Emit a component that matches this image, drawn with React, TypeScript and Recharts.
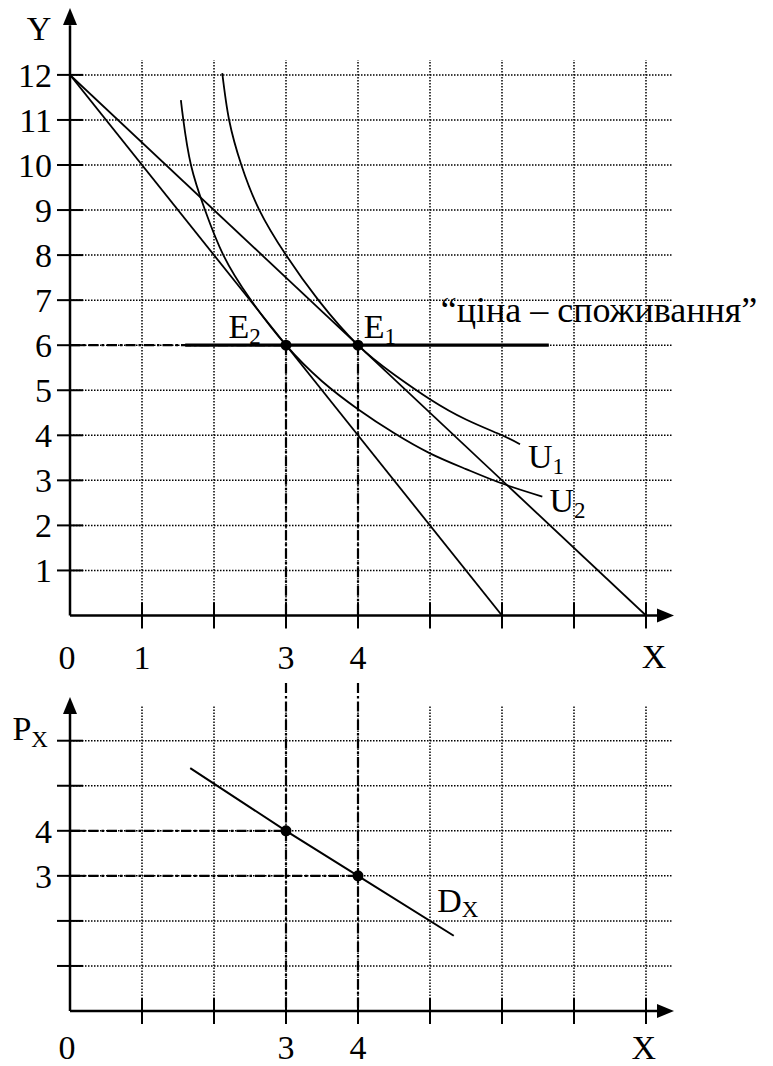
import React from "react";
import { ComposedChart, Line, ReferenceDot, ReferenceLine, XAxis, YAxis } from "recharts";

// Top panel: budget lines, indifference curves, price–consumption line
const budgetLine1 = [
  { x: 0, y: 12 },
  { x: 8, y: 0 },
];
const budgetLine2 = [
  { x: 0, y: 12 },
  { x: 6, y: 0 },
];
const curveU1 = [
  { x: 2.115, y: 12.04 },
  { x: 2.21, y: 11 },
  { x: 2.38, y: 10 },
  { x: 2.63, y: 9 },
  { x: 3, y: 8 },
  { x: 3.45, y: 7 },
  { x: 4, y: 6 },
  { x: 4.5, y: 5.35 },
  { x: 5, y: 4.8 },
  { x: 5.5, y: 4.35 },
  { x: 6, y: 4 },
  { x: 6.25, y: 3.8 },
];
const curveU2 = [
  { x: 1.54, y: 11.44 },
  { x: 1.574, y: 11 },
  { x: 1.68, y: 10 },
  { x: 1.875, y: 9 },
  { x: 2.13, y: 8 },
  { x: 2.5, y: 7.03 },
  { x: 3, y: 6 },
  { x: 3.5, y: 5.2 },
  { x: 4, y: 4.58 },
  { x: 4.5, y: 4.05 },
  { x: 5, y: 3.6 },
  { x: 5.5, y: 3.25 },
  { x: 6, y: 2.93 },
  { x: 6.56, y: 2.64 },
];
const priceConsumption = [
  { x: 1.6, y: 6 },
  { x: 6.65, y: 6 },
];
const equilibria = [
  { x: 3, y: 6 },
  { x: 4, y: 6 },
];

// Bottom panel: demand curve
const demandX = [
  { x: 1.67, y: 5.39 },
  { x: 3, y: 4 },
  { x: 4, y: 3 },
  { x: 5.33, y: 1.67 },
];
const demandPoints = [
  { x: 3, y: 4 },
  { x: 4, y: 3 },
];

const xTicks = [0, 1, 2, 3, 4, 5, 6, 7, 8];
const topXLabels = [0, 1, 3, 4];
const bottomXLabels = [0, 3, 4];
const yTicks = [1, 2, 3, 4, 5, 6, 7, 8, 9, 10, 11, 12];
const pTicks = [1, 2, 3, 4, 5, 6];
const pLabels = [3, 4];

const FONT = "'Liberation Serif', 'Times New Roman', 'DejaVu Serif', serif";
const FS = 34;
const SUB = 23;
const DOTTED = "1.5 1.5";
const DASH_DOT = "10 3 2.5 3";

const makeXTick = (labelled: number[], labelDy: number) => (props: any) => {
  const { x, y, payload } = props;
  const v = payload.value;
  return (
    <g>
      {v !== 0 && <line x1={x} x2={x} y1={y - 13} y2={y + 13} stroke="#000" strokeWidth={2} />}
      {labelled.includes(v) && (
        <text x={v === 0 ? x - 3 : x} y={y + labelDy} textAnchor="middle" fontFamily={FONT} fontSize={FS} fill="#000">
          {v}
        </text>
      )}
    </g>
  );
};

const makeYTick = (labelled: number[]) => (props: any) => {
  const { x, y, payload } = props;
  const v = payload.value;
  return (
    <g>
      <line x1={x - 13} x2={x + 13} y1={y} y2={y} stroke="#000" strokeWidth={2} />
      {labelled.includes(v) && (
        <text x={x - 18} y={y + 12} textAnchor="end" fontFamily={FONT} fontSize={FS} fill="#000">
          {v}
        </text>
      )}
    </g>
  );
};

const textShape = (main: string, sub?: string, subDy = 6, size = FS) => (p: any) => (
  <text x={p.cx} y={p.cy} fontFamily={FONT} fontSize={size} fill="#000">
    {main}
    {sub && (
      <tspan fontSize={SUB} dy={subDy}>
        {sub}
      </tspan>
    )}
  </text>
);

const upArrow = (p: any) => (
  <path d={`M${p.cx},${p.cy} L${p.cx - 7},${p.cy + 17} L${p.cx + 7},${p.cy + 17} Z`} fill="#000" />
);
const rightArrow = (p: any) => (
  <path d={`M${p.cx},${p.cy} L${p.cx - 17},${p.cy - 7} L${p.cx - 17},${p.cy + 7} Z`} fill="#000" />
);
const blackDot = (p: any) => <circle cx={p.cx} cy={p.cy} r={5.5} fill="#000" />;

const X_MAX = 8.389;
const GRID_RIGHT = 8.375;

function TopPanel() {
  const Y_MAX = 13.485;
  return (
    <ComposedChart width={773} height={680} margin={{ top: 8, right: 99, bottom: 4.5, left: 0 }}>
      <XAxis
        type="number"
        dataKey="x"
        domain={[0, X_MAX]}
        allowDataOverflow
        ticks={xTicks}
        interval={0}
        height={60}
        tickSize={0}
        tickMargin={0}
        axisLine={false}
        tick={makeXTick(topXLabels, 53)}
      />
      <YAxis
        type="number"
        dataKey="y"
        domain={[0, Y_MAX]}
        allowDataOverflow
        ticks={yTicks}
        interval={0}
        width={70}
        tickSize={0}
        tickMargin={0}
        axisLine={false}
        tick={makeYTick(yTicks)}
      />
      {yTicks.map((v) => (
        <ReferenceLine key={`h${v}`} segment={[{ x: 0, y: v }, { x: GRID_RIGHT, y: v }]} stroke="#000" strokeWidth={1.5} strokeDasharray={DOTTED} ifOverflow="visible" />
      ))}
      {xTicks.slice(1).map((v) => (
        <ReferenceLine key={`v${v}`} segment={[{ x: v, y: 0 }, { x: v, y: 12.33 }]} stroke="#000" strokeWidth={1.5} strokeDasharray={DOTTED} ifOverflow="visible" />
      ))}
      <ReferenceLine segment={[{ x: 0, y: 6 }, { x: 3, y: 6 }]} stroke="#000" strokeWidth={2.2} strokeDasharray={DASH_DOT} ifOverflow="visible" />
      {equilibria.map((p) => (
        <ReferenceLine key={`d${p.x}`} segment={[{ x: p.x, y: p.y }, { x: p.x, y: 0 }]} stroke="#000" strokeWidth={2.2} strokeDasharray={DASH_DOT} ifOverflow="visible" />
      ))}
      <ReferenceLine segment={[{ x: 0, y: 0 }, { x: 0, y: 13.1 }]} stroke="#000" strokeWidth={2.5} ifOverflow="visible" />
      <ReferenceLine segment={[{ x: 0, y: 0 }, { x: 8.2, y: 0 }]} stroke="#000" strokeWidth={2.5} ifOverflow="visible" />
      <ReferenceDot x={0} y={Y_MAX} shape={upArrow} ifOverflow="visible" />
      <ReferenceDot x={X_MAX} y={0} shape={rightArrow} ifOverflow="visible" />

      <Line data={budgetLine1} dataKey="y" type="linear" stroke="#000" strokeWidth={1.8} dot={false} isAnimationActive={false} />
      <Line data={budgetLine2} dataKey="y" type="linear" stroke="#000" strokeWidth={1.8} dot={false} isAnimationActive={false} />
      <Line data={curveU1} dataKey="y" type="natural" stroke="#000" strokeWidth={1.8} dot={false} isAnimationActive={false} />
      <Line data={curveU2} dataKey="y" type="natural" stroke="#000" strokeWidth={1.8} dot={false} isAnimationActive={false} />
      <Line data={priceConsumption} dataKey="y" type="linear" stroke="#000" strokeWidth={3.2} dot={false} isAnimationActive={false} />
      {equilibria.map((p) => (
        <ReferenceDot key={`e${p.x}`} x={p.x} y={p.y} shape={blackDot} ifOverflow="visible" />
      ))}

      <ReferenceDot x={-0.6} y={12.77} shape={textShape("Y")} ifOverflow="visible" />
      <ReferenceDot x={7.94} y={-1.17} shape={textShape("X")} ifOverflow="visible" />
      <ReferenceDot x={2.2} y={6.17} shape={textShape("E", "2")} ifOverflow="visible" />
      <ReferenceDot x={4.08} y={6.17} shape={textShape("E", "1")} ifOverflow="visible" />
      <ReferenceDot x={5.15} y={6.52} shape={textShape("“ціна – споживання”", undefined, 6, 36)} ifOverflow="visible" />
      <ReferenceDot x={6.36} y={3.28} shape={textShape("U", "1")} ifOverflow="visible" />
      <ReferenceDot x={6.66} y={2.3} shape={textShape("U", "2")} ifOverflow="visible" />
    </ComposedChart>
  );
}

function BottomPanel() {
  const P_MAX = 7.281;
  return (
    <ComposedChart width={773} height={386} margin={{ top: 3, right: 99, bottom: 5, left: 0 }}>
      <XAxis
        type="number"
        dataKey="x"
        domain={[0, X_MAX]}
        allowDataOverflow
        ticks={xTicks}
        interval={0}
        height={50}
        tickSize={0}
        tickMargin={0}
        axisLine={false}
        tick={makeXTick(bottomXLabels, 48)}
      />
      <YAxis
        type="number"
        dataKey="y"
        domain={[0, P_MAX]}
        allowDataOverflow
        ticks={pTicks}
        interval={0}
        width={70}
        tickSize={0}
        tickMargin={0}
        axisLine={false}
        tick={makeYTick(pLabels)}
      />
      {pTicks.map((v) => (
        <ReferenceLine key={`h${v}`} segment={[{ x: 0, y: v }, { x: GRID_RIGHT, y: v }]} stroke="#000" strokeWidth={1.5} strokeDasharray={DOTTED} ifOverflow="visible" />
      ))}
      {xTicks.slice(1).map((v) => (
        <ReferenceLine key={`v${v}`} segment={[{ x: v, y: 0 }, { x: v, y: 6.79 }]} stroke="#000" strokeWidth={1.5} strokeDasharray={DOTTED} ifOverflow="visible" />
      ))}
      {demandPoints.map((p) => (
        <ReferenceLine key={`hd${p.x}`} segment={[{ x: 0, y: p.y }, { x: p.x, y: p.y }]} stroke="#000" strokeWidth={2.2} strokeDasharray={DASH_DOT} ifOverflow="visible" />
      ))}
      {demandPoints.map((p) => (
        <ReferenceLine key={`vd${p.x}`} segment={[{ x: p.x, y: P_MAX }, { x: p.x, y: 0 }]} stroke="#000" strokeWidth={2.2} strokeDasharray={DASH_DOT} ifOverflow="visible" />
      ))}
      <ReferenceLine segment={[{ x: 0, y: 0 }, { x: 0, y: 6.65 }]} stroke="#000" strokeWidth={2.5} ifOverflow="visible" />
      <ReferenceLine segment={[{ x: 0, y: 0 }, { x: 8.2, y: 0 }]} stroke="#000" strokeWidth={2.5} ifOverflow="visible" />
      <ReferenceDot x={0} y={6.97} shape={upArrow} ifOverflow="visible" />
      <ReferenceDot x={X_MAX} y={0} shape={rightArrow} ifOverflow="visible" />

      <Line data={demandX} dataKey="y" type="linear" stroke="#000" strokeWidth={2} dot={false} isAnimationActive={false} />
      {demandPoints.map((p) => (
        <ReferenceDot key={`p${p.x}`} x={p.x} y={p.y} shape={blackDot} ifOverflow="visible" />
      ))}

      <ReferenceDot x={-0.8} y={6.02} shape={textShape("P", "X", 7)} ifOverflow="visible" />
      <ReferenceDot x={5.1} y={2.2} shape={textShape("D", "X", 5)} ifOverflow="visible" />
      <ReferenceDot x={7.8} y={-1.07} shape={textShape("X")} ifOverflow="visible" />
    </ComposedChart>
  );
}

export default function App() {
  return (
    <div style={{ position: "absolute", left: 0, top: 0, width: 773, height: 1066, background: "#fff" }}>
      <div style={{ position: "absolute", left: 0, top: 0 }}>
        <TopPanel />
      </div>
      <div style={{ position: "absolute", left: 0, top: 680 }}>
        <BottomPanel />
      </div>
    </div>
  );
}
